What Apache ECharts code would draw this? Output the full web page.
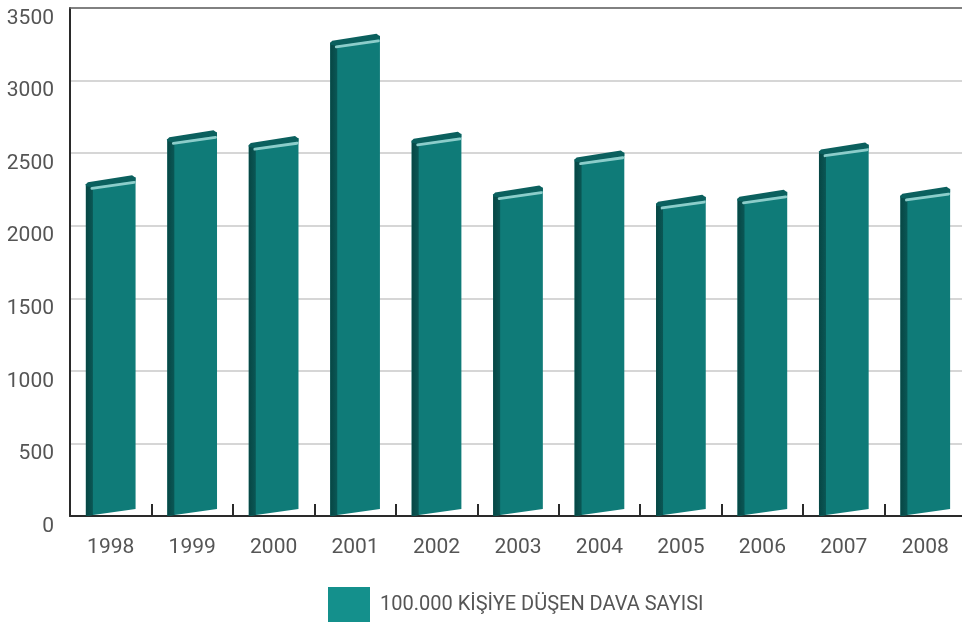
<!DOCTYPE html>
<html>
<head>
<meta charset="utf-8">
<script src="https://cdn.jsdelivr.net/npm/echarts@6/dist/echarts.min.js"></script>
<style>
  html, body { margin: 0; padding: 0; background: #fff; }
  #chart { width: 962px; height: 626px; }
</style>
</head>
<body>
<div id="chart"></div>
<script>
const years = ['1998', '1999', '2000', '2001', '2002', '2003', '2004', '2005', '2006', '2007', '2008'];
const caseCounts = [2310, 2620, 2580, 3285, 2610, 2240, 2480, 2175, 2210, 2535, 2230];
const seriesName = '100.000 KİŞİYE DÜŞEN DAVA SAYISI';
const yTicks = { min: 0, max: 3500, interval: 500 };

const FONT = 'Roboto, "Liberation Sans", sans-serif';
const C_FRONT = '#0f7b78';
const C_SIDE = '#0a5755';
const C_TOP = '#0b605e';
const C_HI = '#8ccdca';

const chart = echarts.init(document.getElementById('chart'), null, { renderer: 'canvas' });

function renderBar(params, api) {
  const i = api.value(0);
  const v = api.value(1);
  const topP = api.coord([i, v]);
  const baseP = api.coord([i, 0]);
  const bw = api.size([1, 0])[0] * 0.61;
  const L = topP[0] - bw / 2, R = topP[0] + bw / 2;
  const t = topP[1], b = baseP[1];
  const skew = 7;
  const side = 7;
  const yTL = t + 3.5, yTR = yTL - skew;
  const yBL = b, yBR = b - skew;
  const slope = -skew / (R - L);
  const yAt = (x, y0) => y0 + slope * (x - L);
  return {
    type: 'group',
    children: [
      { type: 'polygon', shape: { points: [[L, yTL], [R, yTR], [R, yBR], [L, yBL]] },
        style: { fill: C_FRONT } },
      { type: 'polygon', shape: { points: [[L, yTL], [L + side, yAt(L + side, yTL) + 2], [L + side, yAt(L + side, yBL)], [L, yBL]] },
        style: { fill: new echarts.graphic.LinearGradient(0, 0, 1, 0, [
          { offset: 0, color: '#074644' }, { offset: 1, color: C_SIDE }]) } },
      { type: 'polygon', shape: { points: [
          [L, yTL], [L + 2, yTL - 2], [R - 3.5, yTR - 2], [R, yTR + 0.5], [R, yTR + 3.5],
          [L + side, yAt(L + side, yTL) + 4], [L, yTL + 2]] },
        style: { fill: C_TOP } },
      { type: 'line', shape: { x1: L + side - 1, y1: yAt(L + side - 1, yTL) + 5, x2: R - 1.5, y2: yAt(R - 1.5, yTL) + 5 },
        style: { stroke: C_HI, lineWidth: 2.8, lineCap: 'round' } }
    ]
  };
}

const option = {
  backgroundColor: '#ffffff',
  animation: false,
  grid: { left: 70, top: 8, width: 896, bottom: 110, containLabel: false, outerBoundsMode: 'none' },
  legend: {
    data: [{ name: seriesName, icon: 'rect', itemStyle: { color: '#14908c' } }],
    left: 323, top: 582,
    itemWidth: 42, itemHeight: 35,
    textStyle: { fontFamily: FONT, fontSize: 20, color: '#555', padding: [3, 0, 0, 5] },
    selectedMode: false
  },
  xAxis: [{
    type: 'category',
    data: years,
    boundaryGap: true,
    axisLine: { show: true, lineStyle: { color: '#2a2a2a', width: 2 } },
    axisTick: { show: true, inside: true, length: 12, alignWithLabel: false, lineStyle: { color: '#2a2a2a', width: 2 } },
    axisLabel: { margin: 21, fontFamily: FONT, fontSize: 21, color: '#555' }
  }, {
    type: 'category',
    position: 'top',
    data: years,
    axisLine: { show: true, lineStyle: { color: '#666', width: 1.5 } },
    axisTick: { show: false },
    axisLabel: { show: false }
  }],
  yAxis: {
    type: 'value',
    min: yTicks.min, max: yTicks.max, interval: yTicks.interval,
    axisLine: { show: true, lineStyle: { color: '#2a2a2a', width: 2 } },
    axisTick: { show: false },
    axisLabel: { margin: 16, fontFamily: FONT, fontSize: 21, color: '#555', verticalAlign: 'top',
      formatter: (v) => String(v) },
    splitLine: { show: true, lineStyle: { color: '#c8c8c8', width: 1.5 } }
  },
  series: [{
    name: seriesName,
    type: 'custom',
    itemStyle: { color: '#14908c' },
    renderItem: renderBar,
    encode: { x: 0, y: 1 },
    data: years.map((y, i) => [i, caseCounts[i]]),
    z: 3
  }]
};
chart.setOption(option);
</script>
</body>
</html>
